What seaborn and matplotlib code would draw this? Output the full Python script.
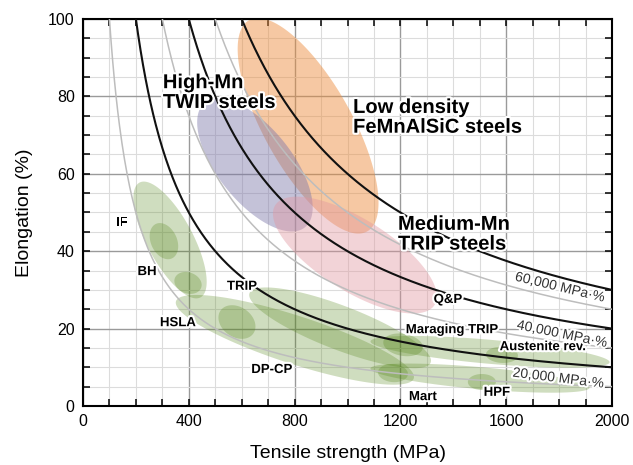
import numpy as np
import pandas as pd
import matplotlib
matplotlib.use("Agg")
import matplotlib.pyplot as plt
import matplotlib.patheffects as pe
import seaborn as sns

# ---------------- data ----------------
# iso strength-ductility product curves (MPa·%)
black_products = [20000, 40000, 60000]
gray_products = [10000, 30000, 50000]

# steel family regions: centre (MPa, %), semi-axes (px), tilt (deg)
region_names = ["Low density", "High-Mn TWIP", "Medium-Mn TRIP"]
region_cx = [851, 650, 1028]
region_cy = [72.4, 62.3, 39.0]
region_a = [121, 80, 94]
region_b = [44, 37, 36]
region_ang = [-60.8, -51.3, -32]
region_color = ["#ec8c3c", "#7d78aa", "#e197a0"]
region_alpha = [0.47, 0.45, 0.42]

green_names = ["IF band", "DP-CP band", "TRIP band", "Austenite band", "Mart-HPF band",
               "BH spot", "spot2", "HSLA spot", "Maraging spot", "Mart spot", "HPF spot", "Aust spot"]
green_cx = [329, 801, 972, 1539, 1501, 306, 397, 582, 1210, 1172, 1508, 1584]
green_cy = [42.9, 17.1, 20.2, 14.0, 7.2, 42.6, 31.8, 21.7, 15.8, 8.5, 6.2, 13.2]
green_a = [65, 125, 97, 120, 110, 19, 14, 20, 20, 15, 14, 16]
green_b = [23, 24, 22, 12, 11, 13, 10.5, 15, 11, 9, 8, 8]
green_ang = [-62, -18, -21, -5, -5, -65, -20, -35, -10, -5, 0, -3]

# labels
big_labels = ["High-Mn\nTWIP steels", "Low density\nFeMnAlSiC steels", "Medium-Mn\nTRIP steels"]
big_x = [302, 1021, 1191]
big_y = [86, 79.6, 49.4]

small_labels = ["IF", "BH", "HSLA", "TRIP", "DP-CP", "Q&P", "Maraging TRIP", "Austenite rev.", "Mart", "HPF"]
small_x = [147, 242, 359, 601, 714, 1380, 1395, 1739, 1285, 1565]
small_y = [47.3, 34.6, 21.4, 30.8, 9.3, 27.4, 19.6, 15.2, 2.3, 3.4]

curve_labels = ["60,000 MPa·%", "40,000 MPa·%", "20,000 MPa·%"]
curve_lx = [1803, 1811, 1797]
curve_ly = [30.7, 18.6, 7.2]
curve_rot = [-13.5, -11.5, -7]

# ---------------- style ----------------
sns.set_theme(style="ticks")
plt.rcParams['font.family'] = ['Liberation Sans', 'DejaVu Sans']
plt.rcParams.update({"text.color": "black", "axes.labelcolor": "black",
                     "xtick.color": "black", "ytick.color": "black"})

fig = plt.figure(figsize=(6.33, 4.65), dpi=100)
ax = fig.add_axes([83/633, 59/465, 529/633, 387/465])
ax.set_xlim(0, 2000)
ax.set_ylim(0, 100)

# grid
ax.set_xticks(np.arange(0, 2001, 400))
ax.set_yticks(np.arange(0, 101, 20))
ax.set_xticks(np.arange(0, 2001, 100), minor=True)
ax.set_yticks(np.arange(0, 101, 5), minor=True)
ax.grid(which="minor", color="#dcdcdc", lw=0.8)
ax.grid(which="major", color="#9a9a9a", lw=1.0)
ax.set_axisbelow(True)
ax.tick_params(which="both", direction="in", top=True, right=True, length=5, width=1.1, color="black")
ax.tick_params(which="major", labelsize=11.5, pad=6, labelcolor="black")
for s in ax.spines.values():
    s.set_linewidth(1.5)
    s.set_color("black")


def ellipse(cx, cy, a, b, ang, color, alpha):
    t = np.linspace(0, 2 * np.pi, 240)
    X0, Y0 = ax.transData.transform((cx, cy))
    r = np.deg2rad(ang)
    dx = a * np.cos(t) * np.cos(r) - b * np.sin(t) * np.sin(r)
    dy = a * np.cos(t) * np.sin(r) + b * np.sin(t) * np.cos(r)
    pts = ax.transData.inverted().transform(np.column_stack([X0 + dx, Y0 + dy]))
    ax.fill(pts[:, 0], pts[:, 1], color=color, alpha=alpha, lw=0, zorder=2)


for i in range(len(region_names)):
    ellipse(region_cx[i], region_cy[i], region_a[i], region_b[i], region_ang[i],
            region_color[i], region_alpha[i])
for i in range(len(green_names)):
    ellipse(green_cx[i], green_cy[i], green_a[i], green_b[i], green_ang[i], "#55861a", 0.28)

# curves
xs = np.linspace(90, 2000, 600)
rows = []
for p in gray_products + black_products:
    for x in xs:
        rows.append({"x": x, "y": p / x, "product": p})
df = pd.DataFrame(rows)
sns.lineplot(data=df[df["product"].isin(gray_products)], x="x", y="y", hue="product",
             palette={p: "#bdbdbd" for p in gray_products}, lw=1.1, legend=False,
             ax=ax, zorder=3, estimator=None, sort=False)
sns.lineplot(data=df[df["product"].isin(black_products)], x="x", y="y", hue="product",
             palette={p: "#111111" for p in black_products}, lw=1.5, legend=False,
             ax=ax, zorder=4, estimator=None, sort=False)
ax.set_xlim(0, 2000)
ax.set_ylim(0, 100)

halo = [pe.withStroke(linewidth=3, foreground="white")]
for t, x, y in zip(big_labels, big_x, big_y):
    ax.text(x, y, t, fontsize=14.5, fontweight="bold", color="black", ha="left", va="top",
            linespacing=1.05, path_effects=halo, zorder=6)
for t, x, y in zip(small_labels, small_x, small_y):
    ax.text(x, y, t, fontsize=9.5, fontweight="bold", color="black", ha="center", va="center",
            path_effects=halo, zorder=6)
for t, x, y, r in zip(curve_labels, curve_lx, curve_ly, curve_rot):
    ax.text(x, y, t, fontsize=10, color="#333333", ha="center", va="center", rotation=r,
            rotation_mode="anchor", path_effects=halo, zorder=6)

ax.set_xlabel("Tensile strength (MPa)", fontsize=14, labelpad=11)
ax.set_ylabel("Elongation (%)", fontsize=14, labelpad=11)

fig.savefig("out.png", dpi=100)
